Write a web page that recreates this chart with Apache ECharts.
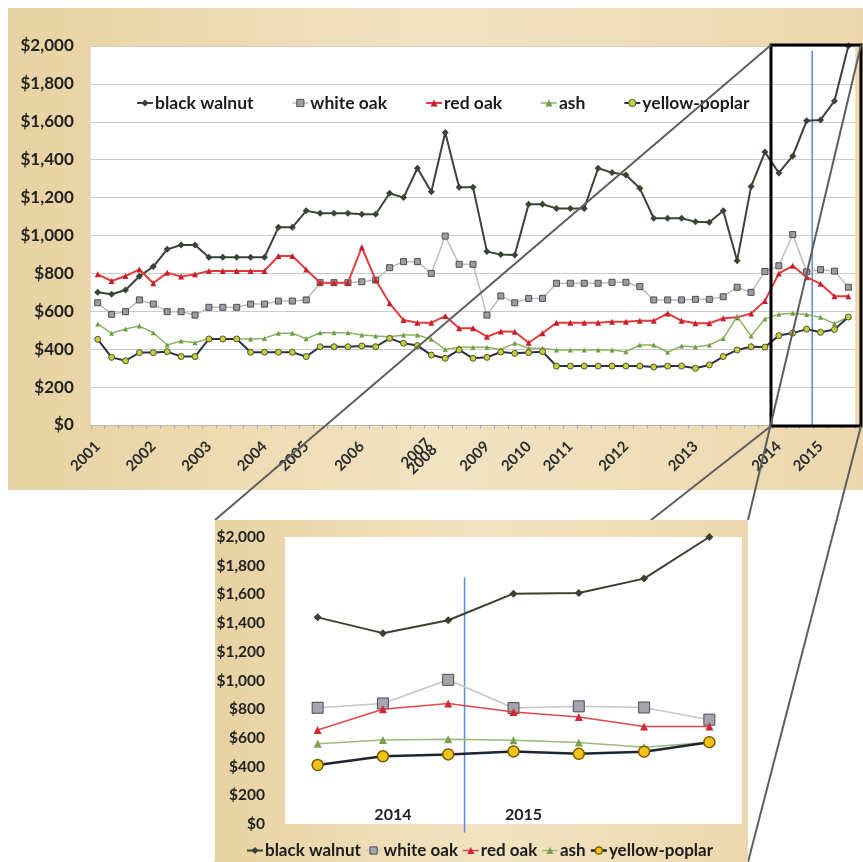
<!DOCTYPE html>
<html><head><meta charset="utf-8">
<script src="https://cdn.jsdelivr.net/npm/echarts@6/dist/echarts.min.js"></script>
<style>html,body{margin:0;padding:0;background:#fff}#c{width:863px;height:862px}</style>
</head><body><div id="c"></div>
<script>
// ---------- DATA ----------
const seriesNames = ['black walnut', 'white oak', 'red oak', 'ash', 'yellow-poplar'];
const blackWalnut = [700,690,712,785,836,927,950,950,885,885,885,885,885,1043,1043,1130,
  1117,1117,1117,1112,1112,1223,1200,1355,1231,1543,1254,1254,915,900,
  897,1165,1165,1143,1143,1143,1355,1332,1319,1249,1091,1091,1091,
  1072,1070,1131,867,1258,
  1440,1330,1420,1605,1610,1710,2000];
const whiteOak = [645,584,598,660,638,598,598,580,621,621,621,638,638,654,654,660,
  751,751,751,756,765,830,862,862,800,997,848,848,580,681,
  645,668,668,748,748,748,748,753,753,730,660,660,660,
  663,663,677,727,700,
  810,840,1005,808,820,812,727];
const redOak = [795,760,786,821,748,804,783,795,813,813,813,813,813,892,892,821,
  751,751,751,938,765,642,554,540,540,575,510,510,466,494,
  492,434,484,540,540,540,540,545,545,550,550,589,550,
  537,537,563,568,589,
  655,800,840,780,745,680,680];
const ash = [533,484,507,522,487,422,443,434,457,454,454,454,457,484,484,455,
  487,487,487,475,470,466,475,475,452,399,410,410,410,399,
  431,405,405,396,396,396,396,396,387,422,422,384,417,
  411,422,457,572,470,
  560,585,590,583,568,535,570];
const yellowPoplar = [452,357,339,382,382,387,361,361,454,454,454,384,384,384,384,361,
  413,413,413,417,413,457,431,419,369,352,396,352,357,385,
  378,382,387,311,311,311,311,311,311,311,306,311,311,
  299,317,361,396,413,
  411,472,485,506,489,504,570];
const yearTicks = ['2001','2002','2003','2004','2005','2006','2007\n2008','2009','2010','2011','2012','2013','2014','2015'];
const yearTickIndex = [0,4,8,12,15,19,24,28,31,34,38,43,49,52];
const insetCount = 7;
const insetLabels = ['', '2014', '', '2015', '', '', ''];
const yTicks = {min: 0, max: 2000, step: 200};
const dividerMain = 51.4;   // position of the blue divider (category units)
const dividerInset = 2.25;

// ---------- BUILD ----------
const N = blackWalnut.length;
const cats = blackWalnut.map((_, i) => 'p' + i);
const tickMap = {};
yearTickIndex.forEach((k, j) => { tickMap[k] = yearTicks[j]; });
const insetStart = N - insetCount;
const insetCats = cats.slice(insetStart);
const allData = [blackWalnut, whiteOak, redOak, ash, yellowPoplar];

const FONT = 'Lato';
const mainStyle = [
  {line:'#3a4434', w:2, sym:'diamond', size:7, fill:'#3a4434', border:'#3a4434', bw:0},
  {line:'#bdbdbd', w:1.5, sym:'rect', size:6, fill:'#9c9ca2', border:'#4f4f55', bw:1},
  {line:'#e23b3b', w:2, sym:'triangle', size:6, fill:'#c5202e', border:'#c5202e', bw:0},
  {line:'#8bb462', w:1.5, sym:'triangle', size:5, fill:'#6f9c45', border:'#6f9c45', bw:0},
  {line:'#2c3245', w:2, sym:'circle', size:6, fill:'#c9cf3a', border:'#4f5530', bw:1}
];
const insetStyle = [
  {line:'#394131', w:2, sym:'diamond', size:8, fill:'#394131', border:'#394131', bw:0},
  {line:'#c6c6c6', w:1.5, sym:'rect', size:11, fill:'#a5a5ad', border:'#4a4a55', bw:1},
  {line:'#e04848', w:1.5, sym:'triangle', size:8, fill:'#d02838', border:'#d02838', bw:0},
  {line:'#98ba78', w:1.5, sym:'triangle', size:8, fill:'#7aa050', border:'#7aa050', bw:0},
  {line:'#1e2430', w:2.5, sym:'circle', size:11, fill:'#f2c418', border:'#7a5a00', bw:1.5}
];

const series = [];
seriesNames.forEach((name, k) => {
  const s = mainStyle[k];
  series.push({
    name, type:'line', xAxisIndex:0, yAxisIndex:0, data: allData[k],
    symbol:s.sym, symbolSize:s.size, showAllSymbol:true,
    lineStyle:{color:s.line, width:s.w},
    itemStyle:{color:s.fill, borderColor:s.border, borderWidth:s.bw},
    z: 2 + k, animation:false
  });
});
seriesNames.forEach((name, k) => {
  const s = insetStyle[k];
  series.push({
    name, type:'line', xAxisIndex:1, yAxisIndex:1, data: allData[k].slice(insetStart),
    symbol:s.sym, symbolSize:s.size, showAllSymbol:true,
    lineStyle:{color:s.line, width:s.w},
    itemStyle:{color:s.fill, borderColor:s.border, borderWidth:s.bw},
    zlevel:1, z: 2 + k, animation:false
  });
});
// blue dividers
series.push({type:'line', xAxisIndex:2, yAxisIndex:0, data:[[dividerMain,0],[dividerMain,1975]],
  symbol:'none', lineStyle:{color:'#5a8ad2', width:1.5}, silent:true, z:1, animation:false});
series.push({type:'line', xAxisIndex:3, yAxisIndex:1, data:[[dividerInset,-60],[dividerInset,1720]],
  symbol:'none', clip:false, lineStyle:{color:'#5a8ad2', width:1.5}, silent:true, zlevel:1, z:1, animation:false});

function legendData(styles){
  return seriesNames.map((n, k) => ({
    name:n,
    itemStyle:{color:styles[k].fill, borderColor:styles[k].border, borderWidth:styles[k].bw},
    lineStyle:{color:styles[k].line, width:styles[k].w}
  }));
}
const yFmt = v => '$' + v.toLocaleString('en-US');
const parchment = {type:'linear', x:0, y:0, x2:1, y2:0, colorStops:[
  {offset:0, color:'#e8d2a2'}, {offset:0.5, color:'#f2e3c2'}, {offset:1, color:'#ecd8ae'}]};

const option = {
  animation:false,
  textStyle:{fontFamily:FONT},
  grid:[
    {left:90.75, right:7.7, top:46, bottom:437, show:true, backgroundColor:'#ffffff', borderWidth:0},
    {left:285, right:121, top:537, bottom:38, show:true, backgroundColor:'#ffffff', borderWidth:0, zlevel:1}
  ],
  xAxis:[
    {type:'category', gridIndex:0, data:cats, boundaryGap:true,
     axisLine:{lineStyle:{color:'#b8b8b8'}},
     axisTick:{show:true, interval:0, length:4, lineStyle:{color:'#b0b0b0'}},
     axisLabel:{interval:0, rotate:45, margin:19, fontFamily:FONT, fontWeight:'bold', fontSize:15,
       color:'#2b2b2b', lineHeight:9, formatter:(v, i) => tickMap[i] || ''}},
    {type:'category', gridIndex:1, data:insetCats, boundaryGap:true, zlevel:1,
     axisLine:{show:false}, axisTick:{show:false},
     axisLabel:{inside:true, interval:0, margin:1, padding:[0,0,0,20], fontFamily:FONT, fontWeight:'bold', fontSize:16,
       color:'#222', formatter:(v, i) => insetLabels[i] || ''}},
    {type:'value', gridIndex:0, min:-0.5, max:N-0.5, show:false},
    {type:'value', gridIndex:1, min:-0.5, max:insetCount-0.5, show:false, zlevel:1}
  ],
  yAxis:[
    {type:'value', gridIndex:0, min:yTicks.min, max:yTicks.max, interval:yTicks.step,
     axisLine:{show:false}, axisTick:{show:false},
     splitLine:{lineStyle:{color:'#cbcbcb', width:1}},
     axisLabel:{margin:17, fontFamily:FONT, fontWeight:'bold', fontSize:17, color:'#222', formatter:yFmt}},
    {type:'value', gridIndex:1, min:yTicks.min, max:yTicks.max, interval:yTicks.step, zlevel:1,
     axisLine:{show:false}, axisTick:{show:false}, splitLine:{show:false},
     axisLabel:{margin:20, fontFamily:FONT, fontWeight:'bold', fontSize:15.5, color:'#222', formatter:yFmt}}
  ],
  legend:[
    {left:136, top:94, itemGap:38, itemWidth:16, itemHeight:9, padding:0,
     data:legendData(mainStyle), selectedMode:false,
     textStyle:{fontFamily:FONT, fontWeight:'bold', fontSize:17.5, color:'#1c1c1c', padding:[0,0,0,-3]}},
    {left:246, top:842, itemGap:4, itemWidth:16, itemHeight:9, padding:0, zlevel:1,
     data:legendData(insetStyle), selectedMode:false,
     textStyle:{fontFamily:FONT, fontWeight:'bold', fontSize:17, color:'#1c1c1c', padding:[0,0,0,-3]}}
  ],
  graphic:{elements:[
    {type:'rect', shape:{x:8, y:8, width:855, height:482}, style:{fill:parchment}, z:-10, zlevel:0, silent:true},
    {type:'rect', shape:{x:771, y:45, width:90, height:381}, style:{fill:null, stroke:'#000', lineWidth:3}, z:100, zlevel:0, silent:true},
    {type:'line', shape:{x1:771, y1:45, x2:215, y2:520}, style:{stroke:'#5e5e5e', lineWidth:2}, z:100, zlevel:0, silent:true},
    {type:'line', shape:{x1:771, y1:426, x2:215, y2:862}, style:{stroke:'#5e5e5e', lineWidth:2}, z:100, zlevel:0, silent:true},
    {type:'line', shape:{x1:861, y1:45, x2:748, y2:520}, style:{stroke:'#5e5e5e', lineWidth:2}, z:100, zlevel:0, silent:true},
    {type:'line', shape:{x1:861, y1:426, x2:748, y2:862}, style:{stroke:'#5e5e5e', lineWidth:2}, z:100, zlevel:0, silent:true},
    {type:'rect', shape:{x:215, y:520, width:533, height:342}, style:{fill:parchment}, z:-10, zlevel:1, silent:true}
  ]},
  series
};
const chart = echarts.init(document.getElementById('c'));
chart.setOption(option);
</script></body></html>
